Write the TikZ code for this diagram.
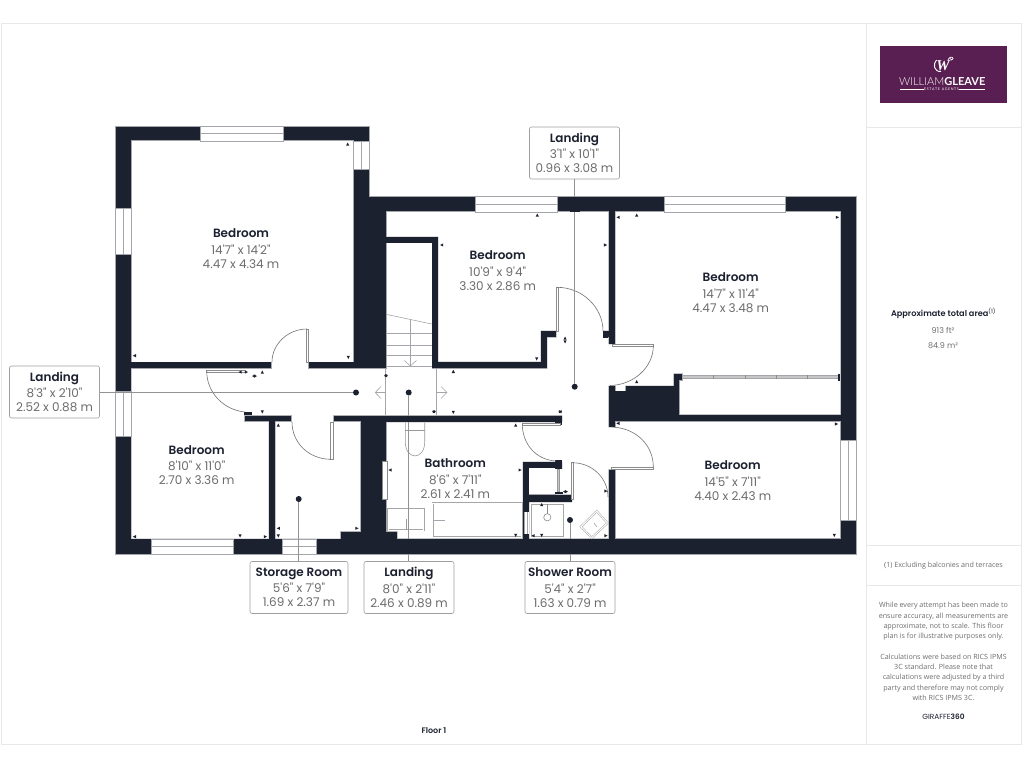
\documentclass[tikz,border=0pt]{standalone}
\usepackage{fontspec}
\setmainfont{Open Sans}
\newfontfamily\planfont{Poppins}[BoldFont={Poppins SemiBold}]
\newfontfamily\logofont{Lato}
\definecolor{wallcol}{HTML}{1C2130}
\definecolor{edgecol}{HTML}{A4A6AB}
\definecolor{framecol}{HTML}{E8E8EA}
\definecolor{dimcol}{HTML}{6C6C6C}
\definecolor{logocol}{HTML}{5A1F52}
\tikzset{
	wallfill/.style={fill=wallcol},
	thinline/.style={draw=edgecol,line width=.6pt},
	leader/.style={draw=gray!85,line width=.7pt},
	leafbox/.style={draw=gray!90,fill=white,line width=.5pt},
	swing/.style={draw=gray!90!black,line width=.6pt},
	fixture/.style={draw=gray!70,double=white,double distance=1pt,line width=.5pt},
	roomlabel/.style={font=\planfont\fontsize{12}{14}\selectfont,text=dimcol,align=center},
	infobox/.style={roomlabel,draw=gray!75,fill=white,rounded corners=2pt,minimum width=90pt,minimum height=52pt,inner sep=0pt,line width=.6pt},
	dotmark/.style={circle,fill=wallcol,minimum size=6pt,inner sep=0pt},
	notetext/.style={font=\fontsize{7.15}{10.2}\selectfont,text=dimcol,align=center},
	paneltext/.style={font=\planfont\fontsize{8}{14.5}\selectfont,text=dimcol,align=center},
	panelline/.style={framecol,line width=.9pt}
}
\newcommand{\roomname}[1]{{\color{wallcol}\bfseries #1}\\[2.4pt]}
\newcommand{\hwin}[4]{\draw[thinline,fill=white] (#1,#3) rectangle (#2,#4); \draw[thinline] (#1,{(#3+#4)/2}) -- (#2,{(#3+#4)/2});}
\newcommand{\vwin}[4]{\draw[thinline,fill=white] (#1,#3) rectangle (#2,#4); \draw[thinline] ({(#1+#2)/2},#3) -- ({(#1+#2)/2},#4);}
\newcommand{\markU}[2]{\fill[wallfill] (#1,#2) -- ++(1.6,3.2) -- ++(-3.2,0) -- cycle;}
\newcommand{\markD}[2]{\fill[wallfill] (#1,#2) -- ++(1.6,-3.2) -- ++(-3.2,0) -- cycle;}
\newcommand{\markL}[2]{\fill[wallfill] (#1,#2) -- ++(3.2,1.6) -- ++(0,-3.2) -- cycle;}
\newcommand{\markR}[2]{\fill[wallfill] (#1,#2) -- ++(-3.2,1.6) -- ++(0,-3.2) -- cycle;}
\newcommand{\planrooms}[1]{
	\path[#1] (131.5,141) -- (353,141) -- (353,361.7) -- (131.5,361.7) -- cycle;
	\path[#1] (272,361) -- (308,361) -- (308,370) -- (272,370) -- cycle;
	\path[#1] (131.5,413) -- (244,413) -- (244,422) -- (268.5,422) -- (268.5,538.5) -- (131.5,538.5) -- cycle;
	\path[#1] (275.7,422) -- (292,422) -- (292,413) -- (333,413) -- (333,422) -- (360,422) -- (360,531) -- (340,531) -- (340,538.5) -- (275.7,538.5) -- cycle;
	\path[#1] (387,212) -- (608.3,212) -- (608.3,330.5) -- (603,330.5) -- (603,340) -- (556.7,340) -- (556.7,330.7) -- (540.7,330.7) -- (540.7,361.7) -- (438.3,361.7) -- (438.3,236.7) -- (387,236.7) -- cycle;
	\path[#1] (387,243.3) -- (431.7,243.3) -- (431.7,372) -- (387,372) -- cycle;
	\path[#1] (131.5,369) -- (547.3,369) -- (547.3,337.7) -- (608.3,337.7) -- (608.3,344.3) -- (617,344.3) -- (617,385.7) -- (608.3,385.7) -- (608.3,427.3) -- (617,427.3) -- (617,469) -- (608.3,469) -- (608.3,538.3) -- (529.3,538.3) -- (529.3,502.3) -- (572.3,502.3) -- (572.3,494.3) -- (556,494.3) -- (556,469) -- (562.3,469) -- (562.3,415) -- (131.5,415) -- cycle;
	\path[#1] (615.5,212) -- (840.3,212) -- (840.3,414.3) -- (680,414.3) -- (680,381) -- (683,381) -- (683,373.3) -- (673.3,373.3) -- (673.3,385.7) -- (615.5,385.7) -- cycle;
	\path[#1] (615.5,421.7) -- (840.3,421.7) -- (840.3,538.3) -- (615.5,538.3) -- cycle;
	\path[#1] (387,422.3) -- (564,422.3) -- (564,461.7) -- (522.7,461.7) -- (522.7,538.3) -- (397.7,538.3) -- (397.7,531) -- (387,531) -- cycle;
	\path[#1] (529.3,468.3) -- (557.5,468.3) -- (557.5,494.3) -- (529.3,494.3) -- cycle;
	\path[#1] (615.7,385) -- (625,385) -- (625,390.7) -- (615.7,390.7) -- cycle;
}
\begin{document}
\begin{tikzpicture}[x=1pt,y=-1pt]
	\useasboundingbox (0,0) rectangle (1024,768);
	\draw[panelline] (1.5,23) -- (1021.7,23) -- (1021.7,744) -- (1.5,744) -- cycle;
	\draw[panelline] (866,23) -- (866,744);
	\draw[panelline] (866,127.7) -- (1021.7,127.7);
	\draw[panelline] (866,545) -- (1021.7,545);
	\draw[panelline] (866,585.7) -- (1021.7,585.7);

	\fill[logocol] (880,46) rectangle (1007.3,103.3);
	\node[text=white,font=\fontspec{Liberation Serif}\itshape\bfseries\fontsize{15}{15}\selectfont,inner sep=0pt] (logomark) at (943,65.5) {W};
	\draw[white,line width=.9pt] (936.5,60) .. controls (932.5,64) and (934,72) .. (941,71.5);
	\draw[white,line width=.7pt] (948,60) .. controls (949,56.5) and (953,56.5) .. (953,58.5) .. controls (953,60.5) and (950,60.5) .. (950,58.5);
	\node[text=white,font=\logofont\fontsize{11}{12}\selectfont,inner sep=0pt] (logoname) at (942.2,81.5) {{\fontspec{Lato Light}WILLIAM}\textbf{GLEAVE}};
	\node[text=white,font=\logofont\fontsize{3.6}{4}\selectfont,inner sep=0pt] (logotag) at (941.5,89.4) {E\,S\,T\,A\,T\,E \ A\,G\,E\,N\,T\,S};
	\draw[white,line width=.4pt] (900,89.4) -- (logotag.west);
	\draw[white,line width=.4pt] (logotag.east) -- (985,89.4);

	\fill[wallfill] (115.7,126) -- (369,126) -- (369,196) -- (856.5,196) -- (856.5,554.3) -- (115.7,554.3) -- cycle;
	\draw[thinline] (115.7,126) -- (369,126) -- (369,196) -- (856.5,196) -- (856.5,554.3) -- (115.7,554.3) -- cycle;
	\planrooms{draw=edgecol,line width=1.1pt}
	\planrooms{fill=white}
	\fill[wallfill] (244,411.5) rectangle (252,415);
	\fill[wallfill] (603,330.5) rectangle (608.3,337.5);
	\fill[wallfill] (555,460) rectangle (562.3,469);
	\fill[wallfill] (555,422) rectangle (562.3,424.5);
	\fill[wallfill] (555,491.5) rectangle (563,494.3);
	\fill[wallfill] (838,374) rectangle (840.3,381);
	\fill[wallfill] (522.7,534) rectangle (529.3,539);
	\fill[white] (523.5,512) rectangle (528.5,534);
	\draw[thinline] (524.5,512) -- (524.5,534);
	\draw[thinline] (527.5,512) -- (527.5,534);
	\draw[gray!80,fill=gray!45,line width=.3pt] (557.5,469) rectangle (559.5,491.5);

	\draw[leafbox] (306,329) rectangle (308.5,362);
	\draw[swing] (307,329) .. controls (288,329) and (272,344) .. (272,362);
	\draw[leafbox] (206.7,370) rectangle (245,372.3);
	\draw[swing] (206.7,371) .. controls (206.7,393) and (224,410) .. (245,412);
	\draw[leafbox] (330.5,422) rectangle (333,459.3);
	\draw[swing] (292,422) .. controls (292,443) and (309,459.3) .. (331,459.3);
	\draw[leafbox] (556.2,287.3) rectangle (558.4,331);
	\draw[swing] (557,287.3) .. controls (582,287.3) and (603,307) .. (603,331);
	\draw[leafbox] (612,344.3) rectangle (653.5,346.5);
	\draw[swing] (653.3,346) .. controls (653.3,367) and (634,385) .. (610,385.5);
	\draw[leafbox] (611.5,466.8) rectangle (653.5,469);
	\draw[swing] (653.3,467) .. controls (653.3,445) and (636,428) .. (612,427);
	\draw[leafbox] (522.3,423) rectangle (560,425.3);
	\draw[swing] (522.3,424) .. controls (522.3,444) and (536,460) .. (556,461);
	\draw[leafbox] (571.3,462.7) rectangle (573.5,499);
	\draw[swing] (572.3,462.7) .. controls (592,462.7) and (608,478) .. (608,497);

	\draw[thinline] (385.3,369) -- (385.3,415);
	\draw[thinline] (436.3,369) -- (436.3,415);
	\draw[thinline] (387,314.5) -- (431.7,324);
	\draw[thinline] (387,333.3) -- (431.7,333.3);
	\draw[thinline] (387,345.7) -- (431.7,345.7);
	\draw[thinline] (387,355) -- (431.7,355);
	\draw[thinline] (387,366) -- (431.7,366);
	\draw[thinline] (410.3,319) -- (410.3,366);
	\draw[thinline] (404.3,360.5) -- (410.3,366) -- (416.5,360.5);
	\draw[thinline] (381,386.5) -- (375.2,392.5) -- (381,398.5);
	\draw[thinline] (375.2,392.5) -- (385.3,392.5);
	\draw[thinline] (441,386.5) -- (447,392.5) -- (441,398.5);
	\draw[thinline] (436.3,392.5) -- (447,392.5);
	\fill[gray!45] (683,375.8) rectangle (838,378.2);
	\draw[thinline,line width=.4pt] (683,375.5) -- (838,375.5);
	\draw[thinline,line width=.4pt] (683,378.5) -- (838,378.5);
	\foreach \tickx in {713.3,744.7,775.7,806.7}{\draw[gray!90,line width=.4pt] (\tickx,375) -- (\tickx,379);}

	\draw[thinline,draw=gray!80] (405.3,422.5) -- (405.3,442) .. controls (405.3,460.5) and (424.7,460.5) .. (424.7,442) -- (424.7,422.5);
	\draw[thinline,draw=gray!80] (405.3,430) -- (424.7,430);
	\draw[fixture] (388.2,509.2) rectangle (423.8,530.2);
	\draw[thinline,draw=gray!80] (406,519.3) -- (406,530);
	\draw[fixture] (432.8,503.2) rectangle (521.8,537.3);
	\draw[thinline] (433,520) -- (445,520);
	\draw[fixture] (530.5,503.8) rectangle (564,537);
	\draw[thinline,draw=gray!90] (547.3,503.8) -- (547.3,513.7);
	\draw[thinline,draw=gray!90] (547.3,517.3) circle (3.6);
	\draw[fixture] (596.7,511.2) -- (607.5,523) -- (591.7,537.8) -- (580.9,526.7) -- cycle;
	\draw[thinline] (594,523) -- (597,527);
	\draw[gray!90,line width=.4pt,fill=white] (382.5,460.7) rectangle (386.7,498.7);

	\hwin{200.7}{283}{126}{141}
	\hwin{475.3}{557.3}{196}{212}
	\hwin{664.3}{785.5}{196}{212}
	\hwin{151}{233.3}{539}{554.3}
	\hwin{282}{316.3}{539}{554.3}
	\vwin{115.7}{131.5}{208.3}{254}
	\vwin{115.7}{131.5}{391}{436}
	\vwin{353}{369}{141}{169.3}
	\vwin{840.3}{856.5}{440}{520}

	\node[dotmark] (dottop) at (574.7,386.7) {};
	\node[dotmark] (dotleft) at (356,392.5) {};
	\node[dotmark] (dotmid) at (408.7,392.5) {};
	\node[dotmark] (dotstore) at (298.7,499) {};
	\node[dotmark] (dotshower) at (570,520) {};

	\node[infobox] (landtop) at (574.5,153) {\roomname{Landing}3'1" x 10'1"\\0.96 x 3.08 m};
	\node[infobox] (landleft) at (54.5,392) {\roomname{Landing}8'3" x 2'10"\\2.52 x 0.88 m};
	\node[infobox,minimum width=98pt] (store) at (299,587.5) {\roomname{Storage Room}5'6" x 7'9"\\1.69 x 2.37 m};
	\node[infobox] (landmid) at (409,587.5) {\roomname{Landing}8'0" x 2'11"\\2.46 x 0.89 m};
	\node[infobox] (shower) at (570,587.5) {\roomname{Shower Room}5'4" x 2'7"\\1.63 x 0.79 m};

	\draw[leader] (landtop.south -| dottop) -- (dottop);
	\draw[leader] (landleft.east |- dotleft) -- (dotleft);
	\draw[leader] (landmid.north -| dotmid) -- (dotmid);
	\draw[leader] (store.north -| dotstore) -- (dotstore);
	\draw[leader] (shower.north -| dotshower) -- (dotshower);
	\fill[wallfill] (570,196.5) rectangle (580,211.5);
	\fill[wallfill] (404,415.5) rectangle (414,422);
	\fill[wallfill] (404,539) rectangle (414,554);
	\fill[wallfill] (565,539) rectangle (575,554);

	\markU{347.7}{142.5}
	\markL{132.8}{355.7}\markD{348.3}{359}
	\markL{238.5}{372}\markR{248}{372}\markL{252}{376}\markR{257}{376}\markU{262.3}{370.5}
	\markD{262.3}{413.5}\markU{278.3}{423.5}
	\markL{132.8}{536.7}\markD{240}{537.5}\markR{267}{536.7}\markL{276.7}{528.3}\markD{278.3}{537.5}\markR{358.5}{528.3}
	\markL{384}{375.7}\markR{388}{375.7}
	\markU{453.3}{369.8}\markL{432}{411.7}\markR{436}{411.7}\markD{453.3}{414}
	\markL{558.5}{411.7}\markR{562}{411.7}\markU{515.7}{423.5}\markD{536.7}{360.5}
	\markU{565}{336.5}\markD{565}{343.5}\markU{636.7}{380}\markL{616.3}{423.3}
	\markL{388.3}{470}\markR{521.7}{470}\markL{563}{491.7}\markR{568}{491.7}\markR{607.5}{491}
	\markU{541.7}{503}\markD{515.7}{537}\markL{531.5}{535.7}\markD{541.7}{537}\markR{607.5}{535.7}
	\markU{537.3}{213.5}\markL{440}{245}\markR{607}{245}\markL{616.5}{217.3}\markU{636.7}{213.5}
	\markR{839}{217.3}\markR{838}{424}\markD{834.3}{537}

	\node[roomlabel] (bedtl) at (241,248.6) {\roomname{Bedroom}14'7" x 14'2"\\4.47 x 4.34 m};
	\node[roomlabel] (bedmid) at (497.7,270.6) {\roomname{Bedroom}10'9" x 9'4"\\3.30 x 2.86 m};
	\node[roomlabel] (bedtr) at (730.7,292.6) {\roomname{Bedroom}14'7" x 11'4"\\4.47 x 3.48 m};
	\node[roomlabel] (bedbr) at (732.7,480.6) {\roomname{Bedroom}14'5" x 7'11"\\4.40 x 2.43 m};
	\node[roomlabel] (bedll) at (196.7,465) {\roomname{Bedroom}8'10" x 11'0"\\2.70 x 3.36 m};
	\node[roomlabel] (bath) at (455.3,478.6) {\roomname{Bathroom}8'6" x 7'11"\\2.61 x 2.41 m};

	\node[font=\planfont\fontsize{8}{8}\selectfont\bfseries,text=wallcol] (floor) at (434,730.5) {Floor 1};
	\node[font=\planfont\fontsize{8.2}{8}\selectfont,text=wallcol] (areatitle) at (943.5,313.5) {\textbf{Approximate total area}\textsuperscript{\mdseries(1)}};
	\node[paneltext] (areaval) at (943,338.2) {913 ft²\\84.9 m²};
	\node[notetext] (excl) at (943.5,565.3) {(1) Excluding balconies and terraces};
	\node[notetext] (disclaim) at (943.5,621.3) {While every attempt has been made to\\ensure accuracy, all measurements are\\approximate, not to scale. This floor\\plan is for illustrative purposes only.};
	\node[notetext] (calcs) at (943.5,677.3) {Calculations were based on RICS IPMS\\3C standard. Please note that\\calculations were adjusted by a third\\party and therefore may not comply\\with RICS IPMS 3C.};
	\node[font=\planfont\fontsize{7.4}{8}\selectfont,text=wallcol] (brand) at (943.5,717) {GIRAFFE\textbf{360}};
\end{tikzpicture}
\end{document}
